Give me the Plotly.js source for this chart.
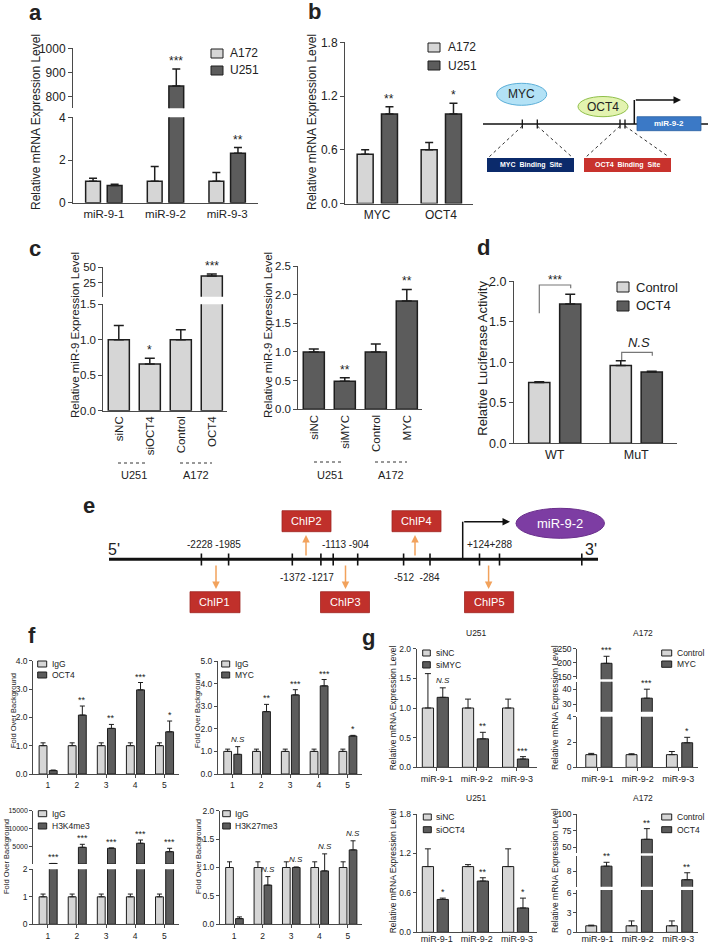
<!DOCTYPE html>
<html><head><meta charset="utf-8">
<script src="https://cdn.plot.ly/plotly-3.0.1.min.js"></script>
<style>html,body{margin:0;padding:0;background:#fff}#chart{width:709px;height:945px}</style>
</head><body><div id="chart"></div>
<script>
// ================= DATA =================
// a
const aCats=['miR-9-1','miR-9-2','miR-9-3'];
const aA172=[1.0,1.0,1.0], aA172Err=[0.15,0.69,0.41];
const aU251=[0.80,844,2.32], aU251Err=[0.07,70,0.26];
const aSig=['','***','**'];
// b
const bCats=['MYC','OCT4'];
const bA172=[0.55,0.60], bA172Err=[0.05,0.08];
const bU251=[1.0,1.0], bU251Err=[0.08,0.12];
const bSig=['**','*'];
// c
const cLCats=['siNC','siOCT4','Control','OCT4'];
const cLVals=[1.0,0.66,1.0,36], cLErr=[0.2,0.08,0.14,3];
const cLSig=['','*','','***'];
const cRCats=['siNC','siMYC','Control','MYC'];
const cRVals=[1.0,0.49,1.0,1.89], cRErr=[0.05,0.06,0.14,0.2];
const cRSig=['','**','','**'];
const cGroups=['U251','A172'];
// d
const dCats=['WT','MuT'];
const dCtrl=[0.75,0.96], dCtrlErr=[0.01,0.06];
const dOct=[1.72,0.88], dOctErr=[0.12,0.01];
// e
const eTicksUp=['-2228 -1985','-1113 -904','+124+288'];
const eTicksDown=['-1372 -1217','-512  -284'];
const eChip=['ChIP1','ChIP2','ChIP3','ChIP4','ChIP5'];
// f
const fCats=['1','2','3','4','5'];
const fIgG=[1,1,1,1,1], fIgGErr=[0.1,0.1,0.1,0.1,0.1];
const fOct=[0.12,2.08,1.61,2.97,1.49], fOctErr=[0.02,0.32,0.14,0.26,0.38];
const fOctSig=['','**','**','***','*'];
const fMyc=[0.87,2.76,3.5,3.9,1.68], fMycErr=[0.34,0.32,0.23,0.28,0.03];
const fMycSig=['<i>N.S</i>','**','***','***','*'];
const fK4=[150,4700,4420,5830,3470], fK4Err=[0,840,100,920,950];
const fK4Sig=['***','***','***','***','***'];
const fK27=[0.1,0.69,1.0,0.94,1.31], fK27Err=[0.03,0.15,0.01,0.3,0.16];
const fK27Sig=['','<i>N.S</i>','<i>N.S</i>','<i>N.S</i>','<i>N.S</i>'];
// g
const gCats=['miR-9-1','miR-9-2','miR-9-3'];
const gSiNC1=[1,1,1], gSiNC1Err=[0.58,0.15,0.15];
const gSiMYC=[1.18,0.48,0.14], gSiMYCErr=[0.16,0.11,0.04];
const gSiMYCSig=['<i>N.S</i>','**','***'];
const gCtl1=[1,1,1], gCtl1Err=[0.1,0.07,0.25];
const gMYC=[198,34,1.94], gMYCErr=[25,6,0.43];
const gMYCSig=['***','***','*'];
const gSiNC2=[1,1,1], gSiNC2Err=[0.27,0.03,0.27];
const gSiOCT=[0.5,0.78,0.37], gSiOCTErr=[0.02,0.05,0.15];
const gSiOCTSig=['*','**','*'];
const gCtl2=[1,1,1], gCtl2Err=[0.1,0.75,0.75];
const gOCT=[8.65,62,6.9], gOCTErr=[0.5,16,0.9];
const gOCTSig=['**','**','**'];

// ================= STYLE / HELPERS =================
const FONT='Liberation Sans, Arial, Helvetica, sans-serif';
const LIGHT='#d6d6d6', DARK='#5c5c5c', EDGE='#1e1e1e', AX='#4a4a4a', TXT='#222';
const W=709,H=945;
const px=x=>x/W, py=y=>1-y/H;
const data=[], shapes=[], ann=[];
const layout={width:W,height:H,margin:{l:0,r:0,t:0,b:0},showlegend:false,
  paper_bgcolor:'#fff',plot_bgcolor:'rgba(0,0,0,0)',font:{family:FONT,color:TXT},barmode:'overlay'};
let nx=0, ny=0;
const axName=(c,n)=>c+'axis'+(n===1?'':n);
const axRef=(c,n)=>c+(n===1?'':n);

function T(x,y,text,size,o){
  o=o||{};
  const f=Object.assign({family:FONT,size:size,color:TXT},o.font||{});
  const a=Object.assign({xref:'paper',yref:'paper',x:px(x),y:py(y),text:text,showarrow:false,xanchor:'center',yanchor:'middle'},o);
  a.font=f; ann.push(a);
}
function L(x0,y0,x1,y1,color,width,dash){shapes.push({type:'line',xref:'paper',yref:'paper',x0:px(x0),y0:py(y0),x1:px(x1),y1:py(y1),line:{color:color,width:width,dash:dash||'solid'}});}
function R(x0,y0,x1,y1,fill,lc,lw){shapes.push({type:'rect',xref:'paper',yref:'paper',x0:px(x0),y0:py(y1),x1:px(x1),y1:py(y0),fillcolor:fill,line:{color:lc||fill,width:lw||0}});}
function Ell(x0,y0,x1,y1,fill,lc,lw){shapes.push({type:'circle',xref:'paper',yref:'paper',x0:px(x0),y0:py(y1),x1:px(x1),y1:py(y0),fillcolor:fill,line:{color:lc||fill,width:lw||0}});}
function Arrow(hx,hy,tx,ty,color,width,head){ann.push({xref:'paper',yref:'paper',x:px(hx),y:py(hy),ax:tx-hx,ay:ty-hy,text:'',showarrow:true,arrowhead:head||2,arrowsize:1,arrowwidth:width,arrowcolor:color});}

function panel(p){
  nx++; const xi=nx; const segIds=[];
  p.segs.forEach(s=>{ ny++; segIds.push(ny);
    const ax={domain:[py(s.bot),py(s.top)],range:s.range,anchor:axRef('x',xi),showline:true,linecolor:AX,linewidth:1,
      ticks:'outside',ticklen:p.tl||4,tickwidth:1,tickcolor:AX,tickvals:s.tickvals,showgrid:false,zeroline:false,
      tickfont:{size:s.tf||p.tf,family:FONT,color:TXT},fixedrange:true,layer:'above traces'};
    if(s.ticktext) ax.ticktext=s.ticktext;
    if(s.fmt) ax.tickformat=s.fmt;
    layout[axName('y',ny)]=ax;
  });
  const n=p.cats.length, xs=p.cats.map((_,i)=>i);
  const xa={domain:[px(p.x0),px(p.x1)],range:[-0.5,n-0.5],anchor:axRef('y',segIds[0]),showline:true,
    linecolor:AX,linewidth:1,tickvals:xs,ticktext:p.cats,ticks:p.xticks?'outside':'',ticklen:3,tickcolor:AX,
    tickangle:p.tickangle||0,showgrid:false,zeroline:false,tickfont:{size:p.xf,family:FONT,color:TXT},fixedrange:true};
  if(p.xstand) xa.ticklabelstandoff=p.xstand;
  layout[axName('x',xi)]=xa;
  p.series.forEach((sr,si)=>{
    segIds.forEach((yid,k)=>{
      const s=p.segs[k];
      const thr=s.range[0]+0.005*(s.range[1]-s.range[0]);
      const yv=sr.vals.map(v=>(k===0||v>=thr)?v:null);
      data.push({type:'bar',x:xs,y:yv,xaxis:axRef('x',xi),yaxis:axRef('y',yid),width:p.bw,offset:p.offs[si],
        name:sr.name,marker:{color:sr.color,line:{color:EDGE,width:p.lw}},
        error_y:{type:'data',symmetric:false,array:sr.errs,arrayminus:sr.vals.map(()=>0),color:EDGE,thickness:p.lw,width:p.capw},
        hoverinfo:'skip'});
    });
  });
  if(p.sig){
    const si=(p.sigSeries===undefined)?p.series.length-1:p.sigSeries;
    const sr=p.series[si];
    p.sig.forEach((sg,i)=>{
      if(!sg) return;
      const top=sr.vals[i]+sr.errs[i];
      let yid=segIds[0];
      p.segs.forEach((s,k)=>{ if(top>=s.range[0]&&top<=s.range[1]) yid=segIds[k]; });
      const isNS=sg.indexOf('N.S')>=0;
      ann.push({xref:axRef('x',xi),yref:axRef('y',yid),x:i+p.offs[si]+p.bw/2,y:top,text:sg,showarrow:false,
        xanchor:'center',yanchor:'bottom',yshift:isNS?1:(p.starShift||-1),font:{family:FONT,size:isNS?p.nsf:p.sf,color:TXT}});
    });
  }
  if(p.legend){
    const lg=p.legend;
    p.series.forEach((sr,si)=>{
      const b=lg.boxes[si];
      R(lg.x0,b[0],lg.x1,b[1],sr.color,EDGE,1);
      T(lg.tx,(b[0]+b[1])/2,sr.name,lg.size,{xanchor:'left'});
    });
  }
}

// ================= PANEL a =================
panel({x0:73,x1:258,cats:aCats,tf:12,xf:11.5,sf:12,nsf:12,lw:1.5,capw:4,bw:0.24,offs:[-0.295,0.055],
  segs:[{top:117.3,bot:202.7,range:[0,4],tickvals:[0,2,4]},{top:48.3,bot:108.3,range:[752,1000],tickvals:[800,900,1000]}],
  series:[{name:'A172',vals:aA172,errs:aA172Err,color:LIGHT},{name:'U251',vals:aU251,errs:aU251Err,color:DARK}],
  sig:aSig,legend:{x0:211,x1:223,boxes:[[49,58],[66,75]],tx:228,size:12}});
T(36,122,'Relative mRNA Expression Level',12,{textangle:-90});
T(35,13,'<b>a</b>',22);

// ================= PANEL b =================
panel({x0:345,x1:473,cats:bCats,tf:12,xf:12,sf:12,nsf:12,lw:1.5,capw:4,bw:0.25,offs:[-0.31,0.07],
  segs:[{top:42.3,bot:203.5,range:[0,1.8],tickvals:[0,0.6,1.2,1.8],fmt:'.1f'}],
  series:[{name:'A172',vals:bA172,errs:bA172Err,color:LIGHT},{name:'U251',vals:bU251,errs:bU251Err,color:DARK}],
  sig:bSig,legend:{x0:428,x1:440,boxes:[[43,52],[61,70]],tx:446,size:12}});
T(312,122,'Relative mRNA Expression Level',12,{textangle:-90});
T(314,11,'<b>b</b>',22);
// b diagram
L(483,124,708,124,'#111',1.5);
[522.3,537.3,620,625].forEach(x=>L(x,119.5,x,128.5,'#111',1.3));
L(634.3,124,634.3,100,'#111',1.5);
Arrow(681,100,634.3,100,'#111',1.5,2);
Ell(496.7,83.3,546.7,105.3,'#b3e2f6','#5aaed8',1);
T(521.7,94.5,'MYC',12);
Ell(578,96.5,628,116.7,'#e3f3b0','#8fbf4a',1);
T(603,106.7,'OCT4',12);
R(637,116.7,701,130.7,'#3b79c6','#2a5fa0',0.8);
T(669,123.7,'<b>miR-9-2</b>',8,{font:{color:'#fff'}});
L(522.3,126,489,157,'#333',1,'dot'); L(537.3,126,572,157,'#333',1,'dot');
L(620,126,586,157,'#333',1,'dot'); L(625,126,669,157,'#333',1,'dot');
R(487,158,574,172,'#0b2a6b'); T(530.5,165,'<b>MYC  Binding  Site</b>',7,{font:{color:'#fff'}});
R(584,158,671,172,'#c8322d'); T(627.5,165,'<b>OCT4  Binding  Site</b>',7,{font:{color:'#fff'}});

// ================= PANEL c =================
panel({x0:103.3,x1:227.3,cats:cLCats,tf:11.5,xf:11.5,sf:12,nsf:12,lw:1.5,capw:5,bw:0.68,offs:[-0.34],tickangle:-90,
  segs:[{top:304.3,bot:410.7,range:[0,1.5],tickvals:[0,0.5,1,1.5],fmt:'.1f'},{top:267.3,bot:296.7,range:[2.2,50],tickvals:[25,50]}],
  series:[{name:'OCT4',vals:cLVals,errs:cLErr,color:LIGHT}],sig:cLSig});
T(75,335,'Relative miR-9 Expression Level',11.5,{textangle:-90});
T(35,249,'<b>c</b>',22);
panel({x0:298.3,x1:422.3,cats:cRCats,tf:11.5,xf:11.5,sf:12,nsf:12,lw:1.5,capw:5,bw:0.68,offs:[-0.34],tickangle:-90,
  segs:[{top:266,bot:409.3,range:[0,2.5],tickvals:[0,0.5,1,1.5,2,2.5],fmt:'.1f'}],
  series:[{name:'MYC',vals:cRVals,errs:cRErr,color:DARK}],sig:cRSig});
T(268,335,'Relative miR-9 Expression Level',11.5,{textangle:-90});
// group labels
L(118,463,148,463,'#333',1,'dot'); L(180,463,212,463,'#333',1,'dot');
T(134,475,cGroups[0],11); T(196,475,cGroups[1],11);
L(314,462,344,462,'#333',1,'dot'); L(375,462,407,462,'#333',1,'dot');
T(330,475,cGroups[0],11); T(391,475,cGroups[1],11);

// ================= PANEL d =================
panel({x0:514,x1:677,cats:dCats,tf:12.5,xf:12.5,sf:12,nsf:12,lw:1.5,capw:5,bw:0.26,offs:[-0.32,0.06],
  segs:[{top:281.3,bot:443.3,range:[0,2],tickvals:[0,0.5,1,1.5,2],fmt:'.1f'}],
  series:[{name:'Control',vals:dCtrl,errs:dCtrlErr,color:LIGHT},{name:'OCT4',vals:dOct,errs:dOctErr,color:DARK}],
  legend:{x0:617,x1:629,boxes:[[282,292],[301,311]],tx:634,size:13}});
T(481.7,358,'Relative Luciferase Activity',13,{textangle:-90});
T(483,247,'<b>d</b>',22);
shapes.push({type:'path',xref:'paper',yref:'paper',path:`M ${px(539.3)} ${py(313.3)} L ${px(539.3)} ${py(285)} L ${px(570.7)} ${py(285)} L ${px(570.7)} ${py(288.3)}`,line:{color:'#777',width:1.2}});
shapes.push({type:'path',xref:'paper',yref:'paper',path:`M ${px(621.7)} ${py(360)} L ${px(621.7)} ${py(352.3)} L ${px(652.3)} ${py(352.3)} L ${px(652.3)} ${py(355.7)}`,line:{color:'#777',width:1.2}});
T(555,280,'***',12);
T(639,342,'<i>N.S</i>',13);

// ================= PANEL e =================
T(89,505,'<b>e</b>',22);
L(109,559.3,598,559.3,'#111',3);
[201.4,228.6,292.3,320.9,333.2,357.7,403.6,430,479.5,499.5,581.8].forEach(x=>L(x,553.5,x,565.5,'#111',1.6));
T(114,549,'5\'',16); T(591,549,'3\'',16);
T(214.5,544,eTicksUp[0],10); T(345,544,eTicksUp[1],10); T(489.5,544,eTicksUp[2],10);
T(306.5,577.5,eTicksDown[0],10); T(416.8,577.5,eTicksDown[1],10);
L(462.7,559.3,462.7,521.7,'#111',1.5);
Arrow(510,521.7,462.7,521.7,'#111',1.5,2);
Ell(516,508.3,604.5,538.3,'#7d3da3','#6a2f8c',1);
T(560.3,523.5,'miR-9-2',13,{font:{color:'#fff'}});
const chipBoxes=[[190,591.7,240,612.7],[282,510.7,331,531.7],[320.5,591.7,369.5,612.7],[392,510.7,441,531.7],[464.5,591.7,513.6,612.7]];
chipBoxes.forEach((b,i)=>{ R(b[0],b[1],b[2],b[3],'#c0302b','#9e2622',0.8); T((b[0]+b[2])/2,(b[1]+b[3])/2,eChip[i],11,{font:{color:'#fff'}}); });
const OR='#f2a25c';
Arrow(216,589,216,564,OR,1.5,2);
Arrow(306,535,306,557,OR,1.5,2);
Arrow(345.5,589,345.5,564,OR,1.5,2);
Arrow(415,535,415,557,OR,1.5,2);
Arrow(488.6,589,488.6,564,OR,1.5,2);

// ================= PANEL f =================
T(32,635,'<b>f</b>',22);
const fCommon={tf:8.5,xf:8.5,sf:9,nsf:8,lw:1,capw:2.5,bw:0.27,offs:[-0.3,0.05],tl:3,xticks:true,starShift:-1};
panel(Object.assign({x0:33.3,x1:178.8,cats:fCats,
  segs:[{top:660.7,bot:774,range:[0,4],tickvals:[0,1,2,3,4],fmt:'.1f'}],
  series:[{name:'IgG',vals:fIgG,errs:fIgGErr,color:LIGHT},{name:'OCT4',vals:fOct,errs:fOctErr,color:DARK}],
  sig:fOctSig,legend:{x0:37.7,x1:46.7,boxes:[[661,667],[672,678]],tx:49.5,size:8.5}},fCommon));
T(13,711,'Fold Over Background',7.5,{textangle:-90});
panel(Object.assign({x0:218,x1:362,cats:fCats,
  segs:[{top:661,bot:774,range:[0,5],tickvals:[0,1,2,3,4,5],fmt:'.1f'}],
  series:[{name:'IgG',vals:fIgG,errs:fIgGErr,color:LIGHT},{name:'MYC',vals:fMyc,errs:fMycErr,color:DARK}],
  sig:fMycSig,legend:{x0:221.7,x1:229.7,boxes:[[661,667],[672,678]],tx:232.5,size:8.5}},fCommon));
T(197,711,'Fold Over Background',7.5,{textangle:-90});
panel(Object.assign({x0:33.3,x1:178.8,cats:fCats,
  segs:[{top:869.3,bot:924.3,range:[0,2],tickvals:[0,1,2]},{top:810.7,bot:864,range:[0,15000],tickvals:[5000,10000,15000],ticktext:['5000','10000','15000'],tf:7}],
  series:[{name:'IgG',vals:fIgG,errs:fIgGErr,color:LIGHT},{name:'H3K4me3',vals:fK4,errs:fK4Err,color:DARK}],
  sig:fK4Sig,legend:{x0:38.3,x1:46.7,boxes:[[810.7,816.7],[823,829]],tx:49.5,size:8.5}},fCommon));
T(6,857,'Fold Over Background',7.5,{textangle:-90});
panel(Object.assign({x0:220,x1:362,cats:fCats,
  segs:[{top:810.7,bot:924.3,range:[0,2],tickvals:[0,0.5,1,1.5,2],fmt:'.1f'}],
  series:[{name:'IgG',vals:fIgG,errs:fIgGErr,color:LIGHT},{name:'H3K27me3',vals:fK27,errs:fK27Err,color:DARK}],
  sig:fK27Sig,legend:{x0:222.7,x1:230.3,boxes:[[810.7,816.7],[823,829]],tx:233,size:8.5}},fCommon));
T(198,857,'Fold Over Background',7.5,{textangle:-90});

// ================= PANEL g =================
T(368,637,'<b>g</b>',22);
const gCommon={tf:8.5,xf:9,sf:9,nsf:8,lw:1,capw:3,tl:3,xticks:true,starShift:-1};
panel(Object.assign({x0:416.7,x1:537,cats:gCats,bw:0.28,offs:[-0.36,0.01],
  segs:[{top:648.7,bot:767.3,range:[0,2],tickvals:[0,0.5,1,1.5,2],fmt:'.1f'}],
  series:[{name:'siNC',vals:gSiNC1,errs:gSiNC1Err,color:LIGHT},{name:'siMYC',vals:gSiMYC,errs:gSiMYCErr,color:DARK}],
  sig:gSiMYCSig,legend:{x0:422.7,x1:430.3,boxes:[[650,656],[661.7,668]],tx:433.5,size:8.5}},gCommon));
T(393.3,708,'Relative mRNA Expression Level',8.5,{textangle:-90});
T(477,633,'U251',8.5);
panel(Object.assign({x0:577.3,x1:698.3,cats:gCats,bw:0.27,offs:[-0.29,0.09],
  segs:[{top:716.7,bot:767.3,range:[0,4],tickvals:[0,2,4]},{top:681.7,bot:711.7,range:[25,45],tickvals:[30,40]},{top:648.7,bot:679.3,range:[141,250],tickvals:[150,200,250]}],
  series:[{name:'Control',vals:gCtl1,errs:gCtl1Err,color:LIGHT},{name:'MYC',vals:gMYC,errs:gMYCErr,color:DARK}],
  sig:gMYCSig,legend:{x0:661.7,x1:671.7,boxes:[[650,656],[661,667.3]],tx:675,size:8.5}},gCommon));
T(555,708,'Relative mRNA Expression Level',8.5,{textangle:-90});
T(643,633,'A172',8.5);
const gBot={xticks:false,xstand:-2};
panel(Object.assign({x0:416.7,x1:537,cats:gCats,bw:0.28,offs:[-0.36,0.01],
  segs:[{top:814,bot:932.3,range:[0,1.8],tickvals:[0,0.6,1.2,1.8],fmt:'.1f'}],
  series:[{name:'siNC',vals:gSiNC2,errs:gSiNC2Err,color:LIGHT},{name:'siOCT4',vals:gSiOCT,errs:gSiOCTErr,color:DARK}],
  sig:gSiOCTSig,legend:{x0:423.3,x1:431.3,boxes:[[814,820],[826.7,832.7]],tx:434,size:8.5}},gCommon,gBot));
T(393.3,871,'Relative mRNA Expression Level',8.5,{textangle:-90});
T(477,798,'U251',8.5);
panel(Object.assign({x0:577.3,x1:698.3,cats:gCats,bw:0.27,offs:[-0.29,0.09],
  segs:[{top:890,bot:932.3,range:[0,6.5],tickvals:[0,3,6]},{top:855.7,bot:886.7,range:[6,10],tickvals:[8]},{top:814,bot:853.3,range:[41,100],tickvals:[50,75,100]}],
  series:[{name:'Control',vals:gCtl2,errs:gCtl2Err,color:LIGHT},{name:'OCT4',vals:gOCT,errs:gOCTErr,color:DARK}],
  sig:gOCTSig,legend:{x0:661.7,x1:671.7,boxes:[[814,820],[826.7,832.7]],tx:675,size:8.5}},gCommon,gBot));
T(555,871,'Relative mRNA Expression Level',8.5,{textangle:-90});
T(643,798,'A172',8.5);

layout.shapes=shapes; layout.annotations=ann;
Plotly.newPlot('chart',data,layout,{displayModeBar:false,staticPlot:true});
</script></body></html>
